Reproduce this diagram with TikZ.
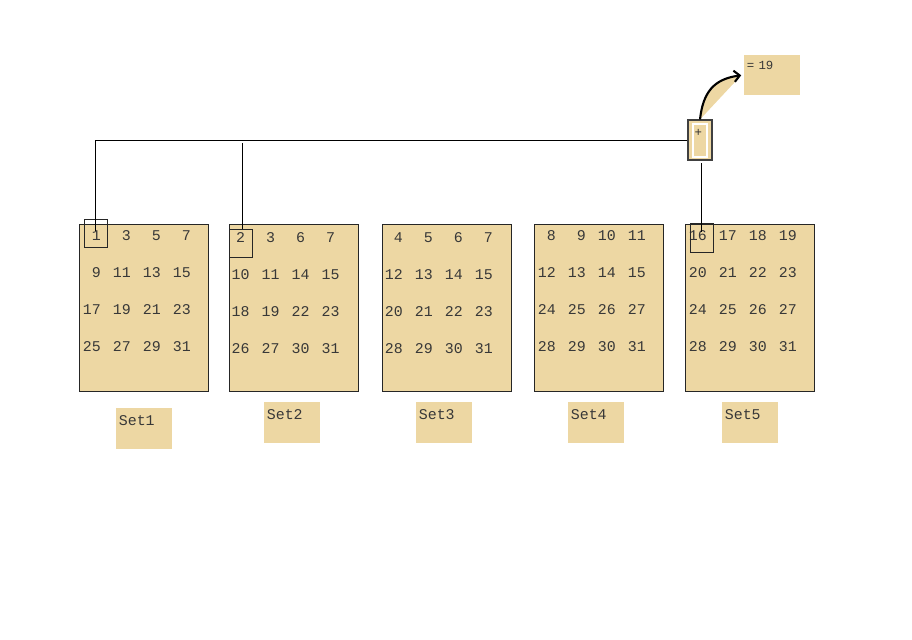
\documentclass[tikz,border=0pt]{standalone}
\usepackage{fontspec}
\setmonofont{Liberation Mono}
\usepackage{xcolor}
\usepackage{tikz}
\usetikzlibrary{arrows.meta}
\definecolor{papyrus}{RGB}{237,215,163}

\begin{document}
\begin{tikzpicture}[x=0.025cm,y=-0.025cm,>={Straight Barb[length=4pt,width=8pt]},
 setbox/.style={draw=black!85,fill=papyrus,line width=0.7pt,inner sep=0pt,
  minimum width=3.225cm,minimum height=4.175cm,anchor=north west},
 num/.style={font=\ttfamily\fontsize{10.6}{12}\selectfont,text=black!78,inner sep=0pt},
 tag/.style={fill=papyrus,anchor=north west,font=\ttfamily\fontsize{10.6}{12}\selectfont,
  text=black!78,text width=1.27cm,inner xsep=0.065cm,inner ysep=0.08cm,
  text height=0.35cm,text depth=0.515cm},
 pick/.style={draw=black!85,line width=0.7pt,inner sep=0pt,
  minimum width=0.575cm,minimum height=0.7cm,anchor=north west}]
 \useasboundingbox (0,0) rectangle (912,639);

 \foreach \x/\lx/\ly [count=\s] in {79/116/408,229/264/402,382/416/402,534/568/402,685/722/402}{
  \node[setbox] (s\s) at (\x,224) {};
  \node[tag] (l\s) at (\lx,\ly) {Set\s};
 }

 \foreach \sx/\sy/\an/\nums [count=\s] in {
  101/236/east/{1,3,5,7,9,11,13,15,17,19,21,23,25,27,29,31},
  240.5/238/center/{2,3,6,7,10,11,14,15,18,19,22,23,26,27,30,31},
  403/238/east/{4,5,6,7,12,13,14,15,20,21,22,23,28,29,30,31},
  556/236/east/{8,9,10,11,12,13,14,15,24,25,26,27,28,29,30,31},
  707/236/east/{16,17,18,19,20,21,22,23,24,25,26,27,28,29,30,31}}
  \foreach \v [count=\k from 0] in \nums
   \node[num,anchor=\an] (n\s-\k) at ({\sx+30*mod(\k,4)},{\sy+37*int(\k/4)}) {\v};

 \node[pick] (p1) at (84,219) {};
 \node[pick] (p2) at (229,229) {};
 \node[pick,minimum height=0.725cm] (p5) at (690,223) {};

 \node[draw=black!75,fill=papyrus,line width=0.8pt,minimum width=0.6cm,minimum height=1cm,
  inner sep=0pt] (plus) at (700,140) {};
 \node[draw=white,line width=0.8pt,minimum width=0.35cm,minimum height=0.825cm,
  inner sep=0pt] (plusin) at (700,140.5) {};
 \node[font=\ttfamily\fontsize{8.8}{10}\selectfont,text=black!80,inner sep=0pt] (sign) at (698.3,133) {+};

 \node[fill=papyrus,anchor=north west,font=\ttfamily\fontsize{8.8}{10}\selectfont,text=black!78,
  text width=1.266cm,inner xsep=0.067cm,inner ysep=0.06cm,text height=0.3cm,
  text depth=0.58cm] (sum) at (744,55) {= 19};

 \coordinate (e1) at (95,231);
 \coordinate (e5) at (701,232);

 \draw[line width=0.7pt] (plus.west) -| (e1);
 \draw[line width=0.7pt] (p2.north -| 242,0) -- (242,143);
 \draw[line width=0.7pt,shorten <=2pt] (plus.south -| e5) -- (e5);

 \fill[papyrus] (plus.north) .. controls (703,92) and (714,79) .. ([xshift=-2pt]sum.west) -- cycle;
 \draw[->,line width=1.5pt] (plus.north) .. controls (703,92) and (714,79) .. ([xshift=-2pt]sum.west);
\end{tikzpicture}
\end{document}
